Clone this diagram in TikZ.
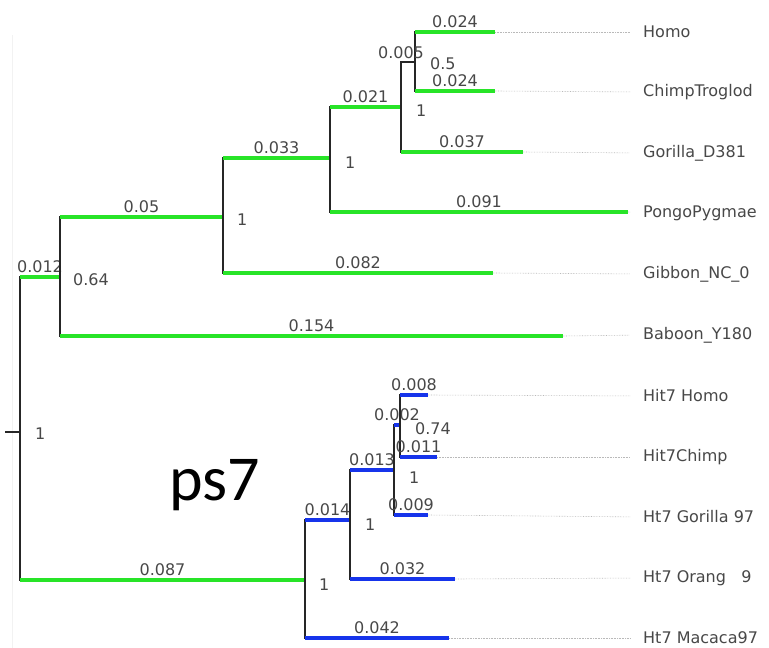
\documentclass[tikz,border=0pt]{standalone}
\usepackage{fontspec}
\setmainfont{DejaVu Sans}
\newfontfamily\bigfont{Carlito}
\usetikzlibrary{positioning}
\definecolor{treegreen}{RGB}{40, 228, 40}
\definecolor{treeblue}{RGB}{22, 52, 235}
\definecolor{labelgray}{RGB}{72, 72, 72}
\definecolor{leadergray}{RGB}{185, 185, 185}

\begin{document}
\begin{tikzpicture}[x=1pt, y=-1pt, font=\fontsize{16}{18}\selectfont, text=labelgray,
    stem/.style={draw=black!85, line width=2pt},
    gbranch/.style={draw=treegreen, line width=4.5pt},
    bbranch/.style={draw=treeblue, line width=4.5pt},
    blen/.style={midway, above=2pt, inner sep=0pt},
    supp/.style={inner sep=0pt},
    taxon/.style={anchor=west, inner sep=0pt, xshift=13pt},
    leader/.style={draw=leadergray, densely dotted, line width=0.6pt, shorten >=13pt}]
    % frame of the picture
    \clip (0,0) rectangle (769,648);
    \fill[white] (0,0) rectangle (769,648);
    \draw[black!5, line width=1pt] (12,35) -- (12,648);

    % inner nodes
    \coordinate (rootin) at (5,432);
    \coordinate (root) at (20,432);
    \coordinate (nPri) at (60,277);
    \coordinate (nApe) at (223,217);
    \coordinate (nGre) at (330,158);
    \coordinate (nAfr) at (401,107);
    \coordinate (nHC) at (415,62);
    \coordinate (nHt) at (305,580);
    \coordinate (nHtG) at (350,520);
    \coordinate (nHtA) at (394,470);
    \coordinate (nHtH) at (400,425);

    % tips
    \coordinate (tHom) at (495,32);
    \coordinate (tChi) at (495,91);
    \coordinate (tGor) at (523,152);
    \coordinate (tPon) at (628,212);
    \coordinate (tGib) at (493,273);
    \coordinate (tBab) at (563,336);
    \coordinate (tHHo) at (428,395);
    \coordinate (tHCh) at (437,457);
    \coordinate (tHGo) at (428,515);
    \coordinate (tHOr) at (455,579);
    \coordinate (tHMa) at (449,638);

    \draw[stem] (rootin) -- (root);

    % green branches
    \foreach \p/\c/\len in {root/nPri/0.012, nPri/nApe/0.05, nPri/tBab/0.154,
        nApe/nGre/0.033, nApe/tGib/0.082, nGre/nAfr/0.021, nGre/tPon/0.091,
        nAfr/tGor/0.037, nHC/tHom/0.024, nHC/tChi/0.024, root/nHt/0.087} {
      \draw[stem] (\p) |- (\c);
      \draw[gbranch] (\p |- \c) -- (\c) node[blen] {\len};
    }
    \draw[stem] (nAfr) |- (nHC) node[blen] {0.005};

    % blue branches
    \foreach \p/\c/\len in {nHt/nHtG/0.014, nHt/tHMa/0.042, nHtG/nHtA/0.013,
        nHtG/tHOr/0.032, nHtA/nHtH/0.002, nHtA/tHGo/0.009, nHtH/tHHo/0.008,
        nHtH/tHCh/0.011} {
      \draw[stem] (\p) |- (\c);
      \draw[bbranch] (\p |- \c) -- (\c) node[blen] {\len};
    }

    % support values
    \node[supp, right=15pt of root, yshift=-2pt] {1};
    \node[supp, right=13pt of nPri, yshift=-3pt] {0.64};
    \node[supp, right=14pt of nApe, yshift=-3pt] {1};
    \node[supp, right=15pt of nGre, yshift=-5pt] {1};
    \node[supp, right=15pt of nAfr, yshift=-4pt] {1};
    \node[supp, right=15pt of nHC, yshift=-2pt] {0.5};
    \node[supp, right=14pt of nHt, yshift=-5pt] {1};
    \node[supp, right=15pt of nHtG, yshift=-5pt] {1};
    \node[supp, right=15pt of nHtA, yshift=-8pt] {1};
    \node[supp, right=15pt of nHtH, yshift=-4pt] {0.74};

    % taxon names
    \node[taxon] (lHom) at (630,32) {Homo};
    \node[taxon] (lChi) at (630,92) {ChimpTroglod};
    \node[taxon] (lGor) at (630,153) {Gorilla\_D381};
    \node[taxon] (lPon) at (630,213) {PongoPygmae};
    \node[taxon] (lGib) at (630,274) {Gibbon\_NC\_0};
    \node[taxon] (lBab) at (630,335) {Baboon\_Y180};
    \node[taxon] (lHHo) at (630,396) {Hit7 Homo};
    \node[taxon] (lHCh) at (630,457) {Hit7Chimp};
    \node[taxon] (lHGo) at (630,517) {Ht7 Gorilla 97};
    \node[taxon] (lHOr) at (630,578) {Ht7 Orang\ \ \ 9};
    \node[taxon] (lHMa) at (630,638) {Ht7 Macaca97};

    \foreach \t/\l in {tHom/lHom, tChi/lChi, tGor/lGor, tPon/lPon, tGib/lGib, tBab/lBab,
        tHHo/lHHo, tHCh/lHCh, tHGo/lHGo, tHOr/lHOr, tHMa/lHMa}
      \draw[leader] (\t) -- (\l.west);

    % gene label
    \node[font=\bigfont\fontsize{64}{70}\selectfont, text=black, anchor=base] (gene) at (215,500) {ps7};
\end{tikzpicture}
\end{document}
